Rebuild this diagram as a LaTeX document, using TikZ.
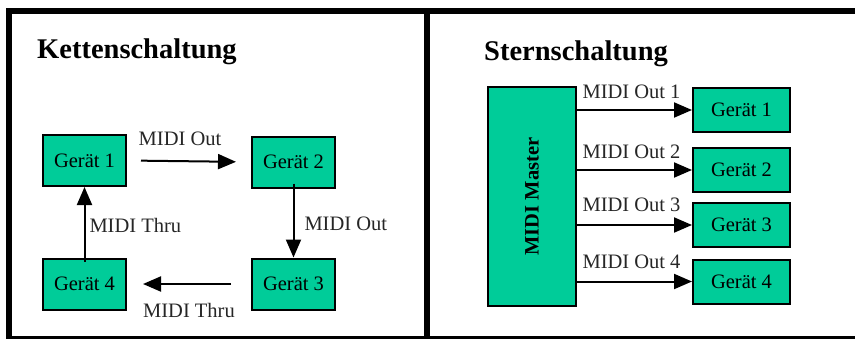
\documentclass[tikz,border=0pt]{standalone}
\usepackage{fontspec}
\setmainfont{Liberation Serif}
\usetikzlibrary{arrows.meta}

\definecolor{geraetgruen}{RGB}{0,204,153}

\begin{document}
\begin{tikzpicture}[x=1pt, y=-1pt,
    geraet/.style={draw=black, line width=2pt, fill=geraetgruen, rectangle, font=\fontsize{20.5}{24}\selectfont},
    kabel/.style={line width=2pt, -{Triangle[length=18pt, width=15pt]}},
    beschriftung/.style={font=\fontsize{20.5}{24}\selectfont, text=black!85, inner sep=0pt},
    titel/.style={font=\fontsize{28.5}{32}\bfseries\selectfont, anchor=base west, inner sep=0pt}]
    \useasboundingbox (0,0) rectangle (855,338);
    \clip (0,0) rectangle (855,338);
    % Rahmen der Tabelle
    \draw[line width=6pt] (9,11) rectangle (900,339);
    \draw[line width=6pt] (426.5,11) -- (426.5,339);

    % Kettenschaltung
    \node[titel](titel1) at (37,58){Kettenschaltung};
    \node[geraet, minimum width=83pt, minimum height=51pt](k1) at (84.5,160.5){Gerät 1};
    \node[geraet, minimum width=83pt, minimum height=51pt](k2) at (293.5,162){Gerät 2};
    \node[geraet, minimum width=83pt, minimum height=51pt](k3) at (293.5,284){Gerät 3};
    \node[geraet, minimum width=83pt, minimum height=51pt](k4) at (84.5,284){Gerät 4};
    \draw[kabel, shorten <=14pt, shorten >=15pt] (k1.east) -- (k2.west) node[midway, beschriftung, anchor=base, xshift=-9pt, yshift=16pt]{MIDI Out};
    \draw[kabel, shorten <=-5pt] (k2.south) -- (k3.north) node[midway, beschriftung, anchor=base west, xshift=10pt, yshift=-7pt]{MIDI Out};
    \draw[kabel, shorten <=20pt, shorten >=16pt] (k3.west) -- (k4.east) node[midway, beschriftung, anchor=base, yshift=-33pt]{MIDI Thru};
    \draw[kabel, shorten <=-4pt] (k4.north) -- (k1.south) node[midway, beschriftung, anchor=base west, xshift=4pt, yshift=-10pt]{MIDI Thru};

    % Sternschaltung
    \node[titel](titel2) at (484,60){Sternschaltung};
    \node[geraet, minimum width=88pt, minimum height=219pt](master) at (532,196.5){};
    \node[font=\fontsize{20.5}{24}\bfseries\selectfont, rotate=90](mastertext) at (master.center){MIDI Master};
    \node[geraet, minimum width=97pt, minimum height=44pt](s1) at (741.5,110){Gerät 1};
    \node[geraet, minimum width=97pt, minimum height=44pt](s2) at (741.5,170){Gerät 2};
    \node[geraet, minimum width=97pt, minimum height=44pt](s3) at (741.5,225){Gerät 3};
    \node[geraet, minimum width=97pt, minimum height=44pt](s4) at (741.5,281.5){Gerät 4};
    \foreach \i/\dy in {1/12pt, 2/12pt, 3/14pt, 4/13pt}{
        \draw[kabel] (master.east |- s\i.west) -- (s\i.west) node[midway, beschriftung, anchor=base, xshift=-3pt, yshift=\dy]{MIDI Out \i};
    }
\end{tikzpicture}
\end{document}
